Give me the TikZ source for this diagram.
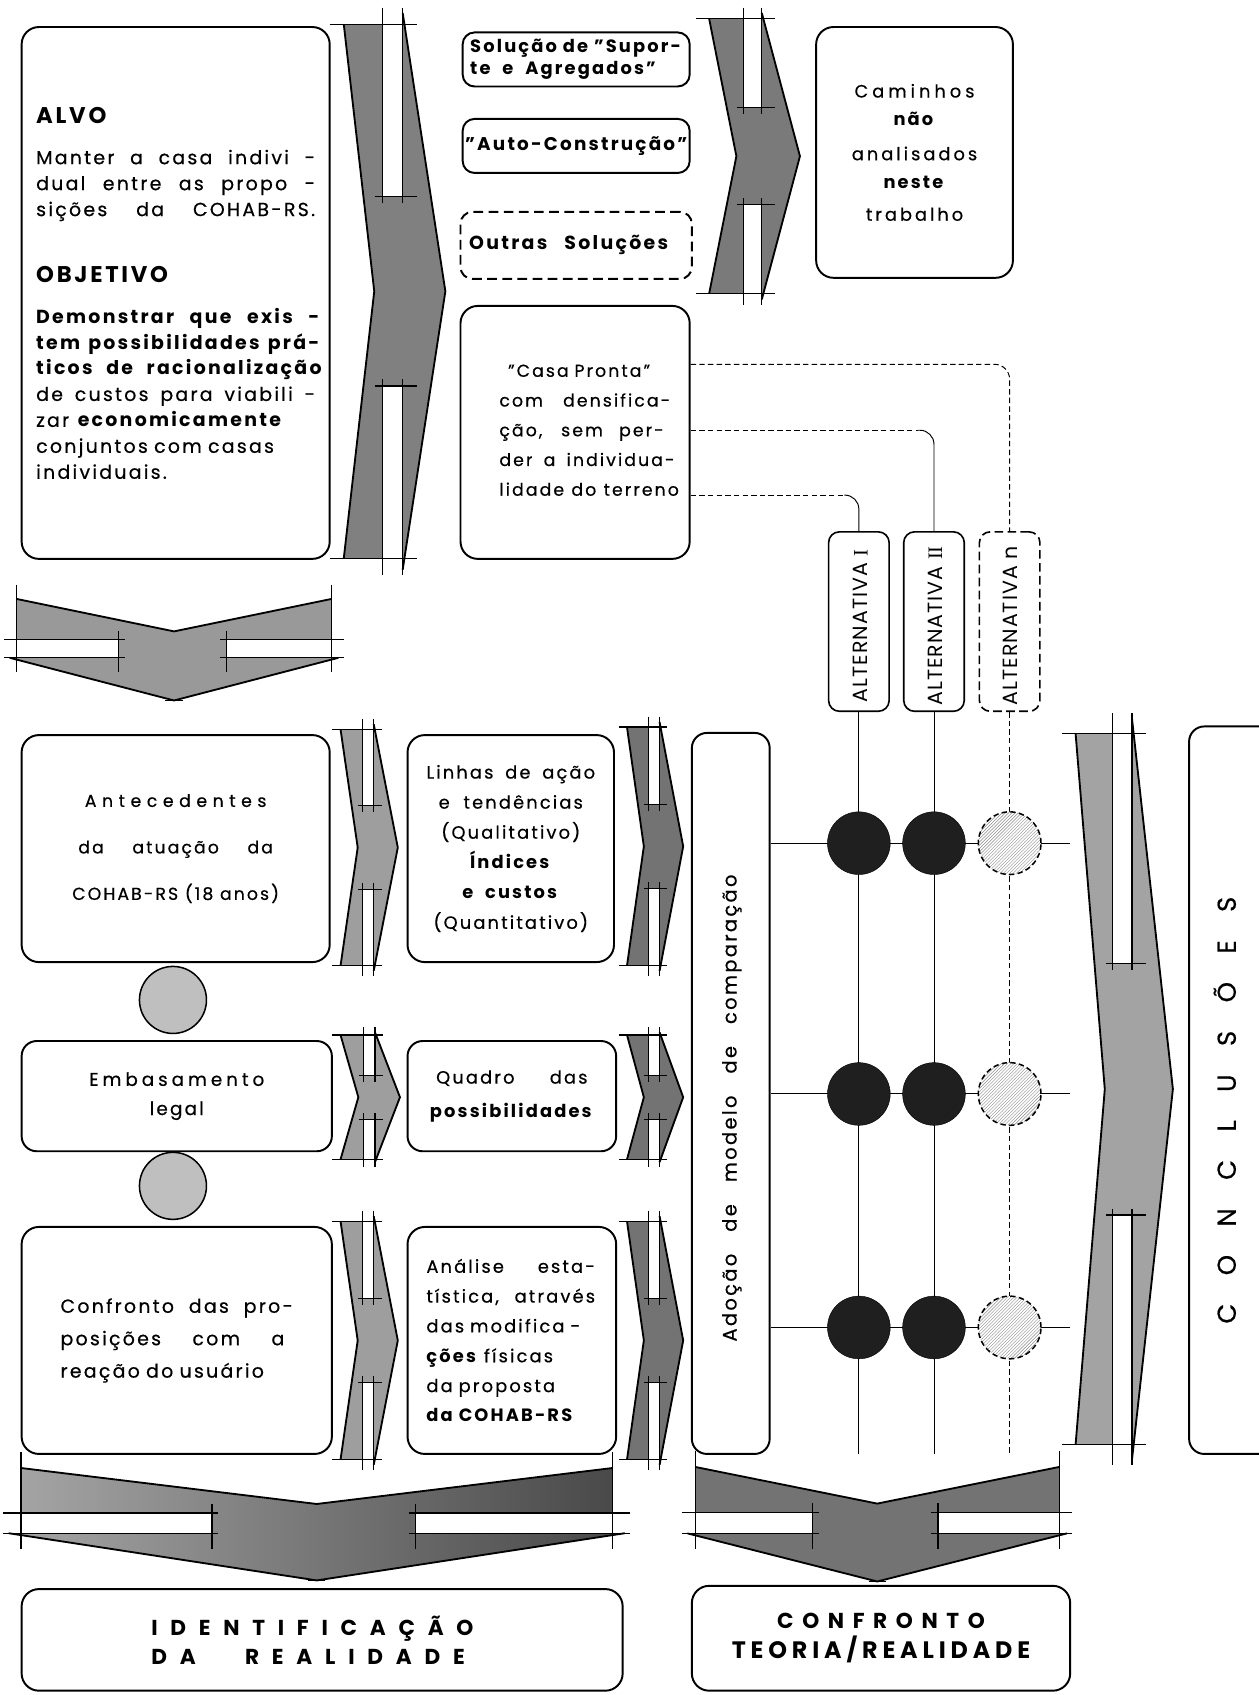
\documentclass[tikz,border=0pt]{standalone}
\usepackage{fontspec}
\setmainfont{Poppins}[LetterSpace=12, UprightFeatures={FakeBold=0.5}]
\newfontfamily\plainf{Poppins}[LetterSpace=5]
\newfontfamily\tightb{Poppins}[LetterSpace=0]
\newfontfamily\serf{Liberation Serif}
\usetikzlibrary{patterns}
\newcommand\fsz[2]{\fontsize{#1}{#2}\selectfont}
\newcommand\jl[2][256pt]{\makebox[#1][s]{\spaceskip=0.3333em plus 1fil\relax #2}}
\newcommand\ls[2]{\makebox[#1][s]{\spaceskip=0pt plus 1fil\relax #2}}

\tikzset{
 box/.style={draw, line width=1.8pt, rounded corners=16pt, inner sep=0pt},
 sbox/.style={draw, line width=1.8pt, rounded corners=11pt, inner sep=0pt},
 dbox/.style={sbox, dash pattern=on 9pt off 5pt},
 altbox/.style={draw, line width=1.5pt, rounded corners=10pt, minimum width=56pt, minimum height=166pt, inner sep=0pt},
 chevline/.style={line width=1.7pt, line join=miter},
 tick/.style={line width=1.1pt},
 gridl/.style={line width=0.9pt},
 hd/.style={line width=0.9pt, dash pattern=on 5pt off 3pt},
 bcirc/.style={circle, draw, fill=black!88, minimum size=58pt, inner sep=0pt},
 hcirc/.style={circle, draw, dash pattern=on 5pt off 3pt, line width=1.4pt, preaction={fill=white}, pattern=north east lines, pattern color=black!45, minimum size=58pt, inner sep=0pt},
 gcirc/.style={circle, draw, line width=1.4pt, fill=black!25, minimum size=62pt, inner sep=0pt},
}

\newcommand\rchev[5][black!45]{%
 \pgfmathsetmacro\chL{#2}\pgfmathsetmacro\chR{#3}\pgfmathsetmacro\chT{#4}\pgfmathsetmacro\chB{#5}%
 \pgfmathsetmacro\chW{\chR-\chL}\pgfmathsetmacro\chH{\chB-\chT}%
 \pgfmathsetmacro\chXn{\chL+0.30*\chW}%
 \pgfmathsetmacro\chXs{\chL+0.38*\chW}%
 \pgfmathsetmacro\chXe{\chL+0.58*\chW}%
 \pgfmathsetmacro\chYm{\chT+0.5*\chH}%
 \pgfmathsetmacro\chYa{\chT+0.02*\chH}%
 \pgfmathsetmacro\chYb{\chB-0.02*\chH}%
 \pgfmathsetmacro\chYs{\chT+0.33*\chH}%
 \pgfmathsetmacro\chYt{\chT+0.67*\chH}%
 \pgfmathsetmacro\chK{max(6,0.14*\chW)}%
 \fill[#1] (\chL,\chYa) -- (\chXn,\chYm) -- (\chL,\chYb) -- (\chXe,\chYb) -- (\chXe,\chB) -- (\chR,\chYm) -- (\chXe,\chT) -- (\chXe,\chYa) -- cycle;
 \fill[white] (\chXs,\chYa) rectangle (\chXe,\chYs) (\chXs,\chYt) rectangle (\chXe,\chYb);
 \draw[chevline] (\chL,\chYa) -- (\chXn,\chYm) -- (\chL,\chYb);
 \draw[chevline] (\chXe,\chT) -- (\chR,\chYm) -- (\chXe,\chB);
 \draw[tick] (\chL-\chK,\chYa) -- (\chXe+\chK,\chYa) (\chL-\chK,\chYb) -- (\chXe+\chK,\chYb)
   (\chXs-0.5*\chK,\chYs) -- (\chXe+\chK,\chYs) (\chXs-0.5*\chK,\chYt) -- (\chXe+\chK,\chYt)
   (\chXs,\chT-5) -- (\chXs,\chYs+6) (\chXe,\chT-5) -- (\chXe,\chYs+6)
   (\chXs,\chYt-6) -- (\chXs,\chB+5) (\chXe,\chYt-6) -- (\chXe,\chB+5);
}

\newcommand\dchev[5][black!45]{%
 \pgfmathsetmacro\chL{#2}\pgfmathsetmacro\chR{#3}\pgfmathsetmacro\chT{#4}\pgfmathsetmacro\chB{#5}%
 \pgfmathsetmacro\chW{\chR-\chL}\pgfmathsetmacro\chH{\chB-\chT}%
 \pgfmathsetmacro\chXa{\chL+0.02*\chW}%
 \pgfmathsetmacro\chXb{\chR-0.02*\chW}%
 \pgfmathsetmacro\chXm{\chL+0.5*\chW}%
 \pgfmathsetmacro\chYn{\chT+0.32*\chH}%
 \pgfmathsetmacro\chYs{\chT+0.40*\chH}%
 \pgfmathsetmacro\chYe{\chT+0.58*\chH}%
 \pgfmathsetmacro\chXs{\chL+0.33*\chW}%
 \pgfmathsetmacro\chXt{\chR-0.34*\chW}%
 \pgfmathsetmacro\chK{max(6,0.14*\chH)}%
 \fill[#1] (\chXa,\chT) -- (\chXm,\chYn) -- (\chXb,\chT) -- (\chXb,\chYe) -- (\chR,\chYe) -- (\chXm,\chB) -- (\chL,\chYe) -- (\chXa,\chYe) -- cycle;
 \fill[white] (\chXa,\chYs) rectangle (\chXs,\chYe) (\chXt,\chYs) rectangle (\chXb,\chYe);
 \draw[chevline] (\chXa,\chT) -- (\chXm,\chYn) -- (\chXb,\chT);
 \draw[chevline] (\chL,\chYe) -- (\chXm,\chB) -- (\chR,\chYe);
 \draw[tick] (\chXa,\chT-\chK) -- (\chXa,\chYe+\chK) (\chXb,\chT-\chK) -- (\chXb,\chYe+\chK)
   (\chL-5,\chYs) -- (\chXs+6,\chYs) (\chL-5,\chYe) -- (\chXs+6,\chYe)
   (\chXt-6,\chYs) -- (\chR+5,\chYs) (\chXt-6,\chYe) -- (\chR+5,\chYe)
   (\chXs,\chYs-0.6*\chK) -- (\chXs,\chYe+\chK) (\chXt,\chYs-0.6*\chK) -- (\chXt,\chYe+\chK)
   (\chXm-8,\chB) -- (\chXm+8,\chB);
}

\begin{document}
\begin{tikzpicture}[x=1pt,y=-1pt]
\useasboundingbox (0,0) rectangle (1164,1568);
\fill[white] (0,0) rectangle (1164,1568);

% ---------- chevron arrows ----------
\rchev[black!50]{318}{412}{12}{527}
\rchev[black!52]{656}{740}{12}{277}
\rchev[black!38]{315}{368}{670}{898}
\rchev[black!55]{580}{632}{668}{898}
\rchev[black!38]{315}{370}{955}{1075}
\rchev[black!55]{580}{632}{955}{1075}
\rchev[black!38]{315}{368}{1125}{1355}
\rchev[black!55]{580}{632}{1125}{1355}
\rchev[black!36]{995}{1085}{665}{1350}
\dchev[black!40]{9}{313}{554}{648}
\dchev[left color=black!35,right color=black!72]{8}{578}{1358}{1462}
\dchev[black!55]{636}{987}{1357}{1463}

% ---------- top-left box ----------
\node[box, minimum width=285pt, minimum height=492pt, text width=258pt, align=left, font=\fsz{17.5}{24}] (alvo) at (162.5,271) {%
{\fsz{21}{24}\bfseries ALVO}\\[14pt]
\jl[258pt]{Manter a casa indivi -}\\
\jl[258pt]{dual entre as propo -}\\
\jl[258pt]{sições da COHAB-RS.}\\[37pt]
{\fsz{21}{24}\bfseries OBJETIVO}\\[14pt]
\textbf{\jl[262pt]{Demonstrar que exis -}}\\
\textbf{\jl[262pt]{tem possibilidades prá-}}\\
\textbf{\jl[264pt]{ticos de racionalização}}\\
\jl[258pt]{de custos para viabili -}\\
zar \textbf{economicamente}\\
conjuntos com casas\\
individuais.};

% ---------- top middle column ----------
\node[sbox, minimum width=210pt, minimum height=50pt, text width=196pt, align=left, font=\fsz{16.5}{20}\bfseries] (sol) at (533,55) {Solução de "Supor-\\te \ e \ Agregados"};
\node[sbox, minimum width=210pt, minimum height=50pt, font=\fsz{17}{20}\bfseries] (auto) at (533,135) {"Auto-Construção"};
\node[dbox, minimum width=214pt, minimum height=62pt, text width=198pt, align=left, font=\fsz{17.5}{20}\bfseries] (outras) at (533,227) {\jl[184pt]{Outras Soluções}};
\node[box, minimum width=212pt, minimum height=234pt] (casa) at (532,400) {};
\node[align=left, font=\fsz{16}{27.5}, text width=170pt, inner sep=0pt] (casatxt) at (547,398) {\hspace*{8pt}"Casa Pronta"\\\jl[158pt]{com densifica-}\\\jl[152pt]{ção, sem per-}\\\jl[162pt]{der a individua-}\\\jl[166pt]{lidade do terreno}};
\node[box, minimum width=182pt, minimum height=232pt, align=center, font=\fsz{16.5}{26}] (cam) at (846,141) {\ls{111pt}{C a m i n h o s}\\\textbf{não}\\[6pt]\ls{116pt}{a n a l i s a d o s}\\\textbf{neste}\\[4pt]\ls{90pt}{t r a b a l h o}};

% ---------- alternatives ----------
\node[altbox] (alt1) at (794.5,575) {};
\node[altbox] (alt2) at (864,575) {};
\node[altbox, dash pattern=on 8pt off 4pt] (altn) at (934,575) {};
\node[rotate=90, font=\plainf\fsz{19}{19}] (alt1t) at (796,579) {ALTERNATIVA {\serf I}};
\node[rotate=90, font=\plainf\fsz{19}{19}] (alt2t) at (865,579) {ALTERNATIVA {\serf II}};
\node[rotate=90, font=\plainf\fsz{19}{19}] (altnt) at (935,579) {ALTERNATIVA n};

\coordinate (k1) at (781,458);
\coordinate (k2) at (849,398);
\coordinate (k3) at (920,337);
\draw[hd] (casa.east |- k1) -- (k1);
\draw[gridl, rounded corners=13pt] (k1) -| (alt1.north);
\draw[hd] (casa.east |- k2) -- (k2);
\draw[gridl, rounded corners=13pt] (k2) -| (alt2.north);
\draw[hd, rounded corners=14pt] (casa.east |- k3) -| (altn.north);

% ---------- middle rows ----------
\node[box, minimum width=285pt, minimum height=210pt, align=center, font=\fsz{16}{43}] (ante) at (162.5,785) {\ls{168pt}{A n t e c e d e n t e s}\\\jl[180pt]{da atuação da}\\COHAB-RS (18 anos)};
\node[box, minimum width=191pt, minimum height=210pt, align=center, font=\fsz{16.5}{27.8}] (linhas) at (472.5,785) {\jl[156pt]{Linhas de ação}\\e \ tendências\\(Qualitativo)\\\textbf{Índices}\\\textbf{e \ custos}\\(Quantitativo)};
\node[gcirc] (g1) at (160,925) {};
\node[box, rounded corners=14pt, minimum width=287pt, minimum height=102pt, align=center, font=\fsz{17}{27}] (emb) at (163.5,1014) {\ls{162pt}{E m b a s a m e n t o}\\legal};
\node[box, rounded corners=14pt, minimum width=193pt, minimum height=102pt, align=center, font=\fsz{16.5}{31}] (quadro) at (473.5,1014) {\jl[140pt]{Quadro das}\\\textbf{possibilidades}};
\node[gcirc] (g2) at (160,1097) {};
\node[box, minimum width=287pt, minimum height=210pt, text width=215pt, align=left, font=\fsz{17.5}{30}] (conf) at (163.5,1240) {\jl[215pt]{Confronto das pro-}\\\jl[207pt]{posições com a}\\reação do usuário};
\node[box, minimum width=193pt, minimum height=210pt, text width=158pt, align=left, font=\fsz{16.5}{27.6}] (anal) at (473.5,1240) {\jl[156pt]{Análise esta-}\\\jl[156pt]{tística, através}\\das modifica -\\\textbf{ções} físicas\\da proposta\\\textbf{da COHAB-RS}};

\node[box, rounded corners=14pt, minimum width=72pt, minimum height=667pt] (adocao) at (676,1011.5) {};
\node[rotate=90, font=\fsz{18}{18}] (adotxt) at (677,1025) {\jl[432pt]{Adoção de modelo de comparação}};
\node[box, rounded corners=14pt, minimum width=80pt, minimum height=673pt] (concl) at (1140,1008.5) {};
\node[rotate=90, font=\fsz{24}{24}] (concltxt) at (1133,1027) {\ls{395pt}{C O N C L U S Õ E S}};

% ---------- grid ----------
\coordinate (gb) at (0,1345);
\coordinate (r1) at (990,780);
\coordinate (r2) at (990,1012);
\coordinate (r3) at (990,1228);
\draw[gridl] (alt1.south) -- (alt1.south |- gb);
\draw[gridl] (alt2.south) -- (alt2.south |- gb);
\draw[hd] (altn.south) -- (altn.south |- gb);
\foreach \r in {r1,r2,r3} \draw[gridl] (adocao.east |- \r) -- (\r);
\foreach \r/\i in {r1/1,r2/2,r3/3} {
  \node[bcirc] (ca\i) at (alt1.south |- \r) {};
  \node[bcirc] (cb\i) at (alt2.south |- \r) {};
  \node[hcirc] (cn\i) at (altn.south |- \r) {};
}

% ---------- bottom ----------
\node[box, minimum width=556pt, minimum height=94pt] (ident) at (298,1517) {};
\node[align=left, font=\fsz{20}{27}\bfseries, inner sep=0pt] (identtxt) at (289,1517) {\ls{298pt}{I D E N T I F I C A Ç Ã O}\\\ls{290pt}{D A \hspace{22pt} R E A L I D A D E}};
\node[box, minimum width=350pt, minimum height=97pt, align=center, font=\fsz{20}{28}\bfseries] (confr) at (815,1515.5) {\ls{192pt}{C O N F R O N T O}\\{\tightb\bfseries\fsz{22}{28}\ls{276pt}{T E O R I A / R E A L I D A D E}}};
\end{tikzpicture}
\end{document}
